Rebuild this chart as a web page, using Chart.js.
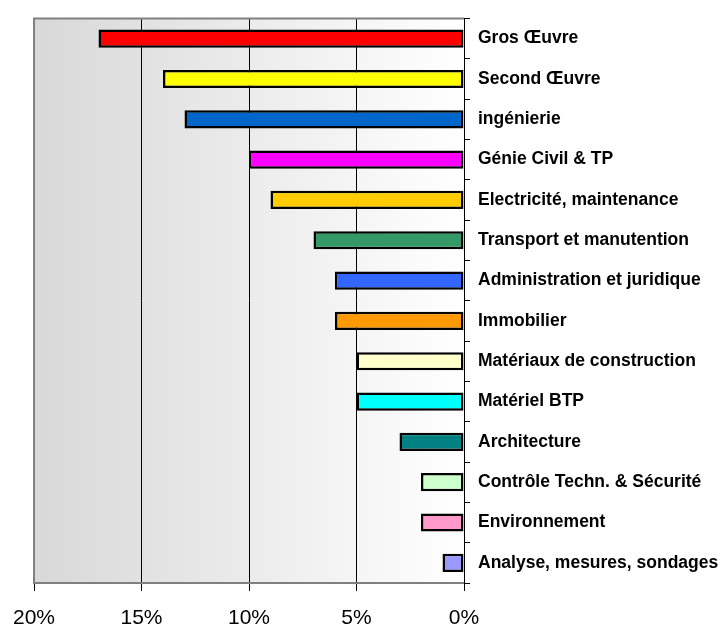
<!DOCTYPE html>
<html><head><meta charset="utf-8">
<script src="https://cdn.jsdelivr.net/npm/chart.js@4/dist/chart.umd.min.js"></script>
<style>html,body{margin:0;padding:0;background:#fff}#wrap{width:723px;height:626px}</style>
</head><body><div id="wrap"><canvas id="c" width="723" height="626"></canvas></div>
<script>
const categories = ["Gros Œuvre","Second Œuvre","ingénierie","Génie Civil & TP","Electricité, maintenance","Transport et manutention","Administration et juridique","Immobilier","Matériaux de construction","Matériel BTP","Architecture","Contrôle Techn. & Sécurité","Environnement","Analyse, mesures, sondages"];
const shares = [17,14,13,10,9,7,6,6,5,5,3,2,2,1];
const barColors = ["#FF0000","#FFFF00","#0066CC","#FF00FF","#FFCC00","#339966","#3366FF","#FF9900","#FFFFCC","#00FFFF","#008080","#CCFFCC","#FF99CC","#9999FF"];
const xTicks = [0,5,10,15,20];

const bgPlugin = {
  id:'bg',
  beforeDraw(chart){
    const {ctx, chartArea:a} = chart;
    const g = ctx.createLinearGradient(a.left,0,a.right,0);
    g.addColorStop(0,'#D8D8D8');
    g.addColorStop(1,'#FFFFFF');
    ctx.save(); ctx.fillStyle=g; ctx.fillRect(a.left,a.top,a.right-a.left,a.bottom-a.top); ctx.restore();
  },
  afterDraw(chart){
    const {ctx, chartArea:a} = chart;
    ctx.save(); ctx.strokeStyle='#808080'; ctx.lineWidth=2;
    ctx.beginPath();
    ctx.moveTo(a.right,a.top); ctx.lineTo(a.left,a.top); ctx.lineTo(a.left,a.bottom); ctx.lineTo(a.right,a.bottom);
    ctx.stroke(); ctx.restore();
  }
};

new Chart(document.getElementById('c'), {
  type:'bar',
  data:{labels:categories, datasets:[{data:shares, backgroundColor:barColors, borderColor:'#000', borderWidth:2.5, borderSkipped:false, barPercentage:0.45, categoryPercentage:1}]},
  options:{
    indexAxis:'y', responsive:false, animation:false,
    layout:{padding:{left:34,top:18,right:0,bottom:0}},
    plugins:{legend:{display:false}, tooltip:{enabled:false}},
    scales:{
      x:{type:'linear', reverse:true, min:0, max:20, position:'bottom',
        afterBuildTicks(s){ s.ticks = xTicks.map(v=>({value:v})); },
        afterFit(s){ s.height = 43; },
        ticks:{callback:v=>v+'%', font:{family:'Liberation Sans', size:21}, color:'#000', padding:15, maxRotation:0},
        grid:{color:c=> (c.tick && c.tick.value===20) ? 'rgba(0,0,0,0)' : '#000', tickColor:'#000', lineWidth:1, tickLength:8},
        border:{display:false}
      },
      y:{position:'right',
        afterFit(s){ s.width = 259; },
        ticks:{font:{family:'Liberation Sans', size:17.5, weight:'bold'}, color:'#000', padding:8, crossAlign:'near'},
        grid:{drawOnChartArea:false, color:'#000', tickLength:6, offset:true},
        border:{display:true, color:'#000', width:1}
      }
    }
  },
  plugins:[bgPlugin]
});
</script></body></html>
